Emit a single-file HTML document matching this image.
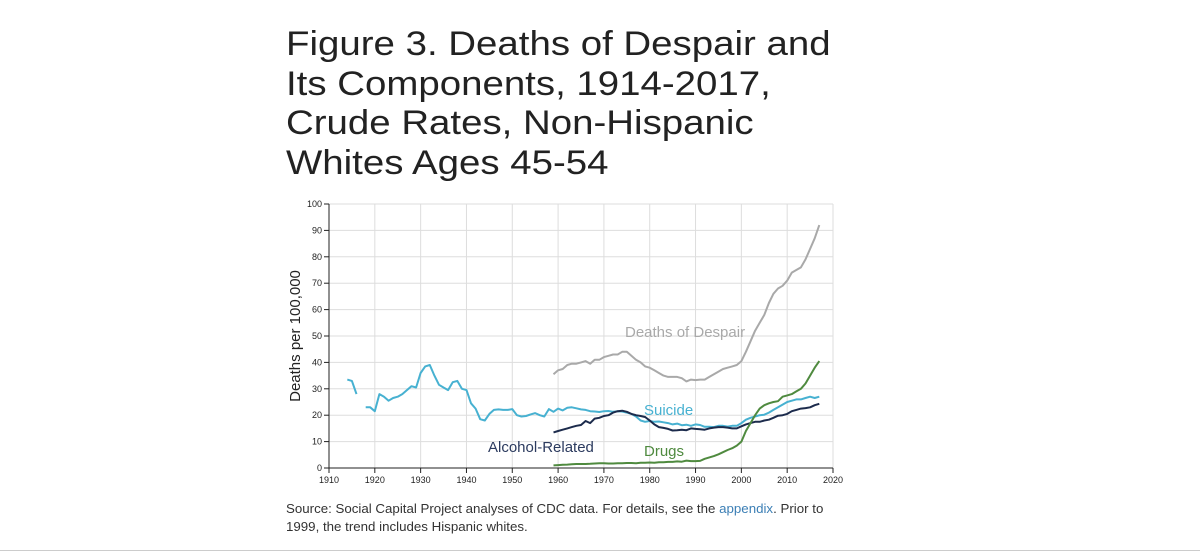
<!DOCTYPE html>
<html><head><meta charset="utf-8"><style>
body{margin:0;width:1200px;height:554px;background:#fff;overflow:hidden;font-family:"Liberation Sans",sans-serif;position:relative}
#title{position:absolute;left:286px;top:25px;font-size:34px;line-height:39.5px;color:#222;margin:0;font-weight:normal;transform:scaleX(1.13);transform-origin:0 0;white-space:nowrap}
#src{position:absolute;left:286px;top:500px;font-size:13.3px;line-height:18px;color:#333;width:560px}
#src a{color:#3c7fb5;text-decoration:none}
#rule{position:absolute;left:0;top:550px;width:1200px;height:1px;background:#ccc}
svg{position:absolute;left:0;top:0}
</style></head><body>
<h1 id="title">Figure 3. Deaths of Despair and<br>Its Components, 1914-2017,<br>Crude Rates, Non-Hispanic<br>Whites Ages 45-54</h1>
<svg id="chart" width="1200" height="554"></svg>
<div id="src">Source: Social Capital Project analyses of CDC data. For details, see the <a>appendix</a>. Prior to 1999, the trend includes Hispanic whites.</div>
<div id="rule"></div>
<script>
const xTicks=[1910,1920,1930,1940,1950,1960,1970,1980,1990,2000,2010,2020];
const yTicks=[0,10,20,30,40,50,60,70,80,90,100];
const suicideEarlyYears=[1914,1915,1916];
const suicideEarly=[33.5,33,28];
const suicideStart=1918;
const suicide=[23,23,21.5,28,27,25.5,26.5,27,28,29.5,31,30.5,36,38.5,39,35,31.5,30.5,29.5,32.5,33,30,29.5,24.5,22.5,18.5,18,20.5,22,22.2,22,22,22.3,20,19.5,19.7,20.3,20.8,20,19.5,22.3,21.3,22.5,21.8,22.8,23,22.6,22.2,22,21.5,21.4,21.2,21.5,21.6,21.3,21.5,21.4,21,20.5,19.5,18,17.5,17.8,17.5,17.6,17.3,17,16.5,16.8,16.2,16.4,16,16.5,16.3,15.6,15.6,15.5,16,16,15.7,16,16,17,18.3,19,19.5,20,20.2,21,22,23,24,25,25.5,26,26,26.5,27,26.5,27];
const modernStart=1959;
const alcohol=[13.5,14,14.5,15,15.5,16,16.3,17.8,17,18.7,19,19.7,20,21,21.5,21.7,21.3,20.5,20,19.7,19.3,18,16.5,15.5,15.2,14.8,14.2,14.3,14.5,14.3,15,14.8,14.7,14.5,15,15.3,15.5,15.5,15.3,15,15,15.8,16.5,17,17.5,17.5,18,18.3,19,19.8,20,20.5,21.5,22,22.5,22.7,23,23.8,24.3];
const drugs=[1,1.1,1.2,1.3,1.4,1.5,1.5,1.5,1.6,1.7,1.8,1.8,1.7,1.7,1.8,1.8,1.9,1.9,1.8,2,2,2.1,2,2.2,2.2,2.3,2.3,2.5,2.4,2.8,2.6,2.6,2.7,3.5,4,4.5,5.2,6,6.8,7.5,8.5,10,14,17,20,22.5,23.8,24.5,25,25.3,27,27.5,28,29,30,32,35,38,40.5];
const despair=[35.5,37,37.5,39,39.5,39.5,40,40.5,39.5,41,41,42,42.5,43,43,44,44,42.5,41,40,38.5,38,37,36,35,34.5,34.5,34.5,34,32.8,33.5,33.3,33.5,33.5,34.5,35.5,36.5,37.5,38,38.5,39,40.5,44,48,52,55,58,62.5,66,68,69,71,74,75,76,79,83,87,92];

const svg=document.getElementById('chart');
const NS='http://www.w3.org/2000/svg';
const X0=329,X1=833,Y0=468,Y1=204;
const x=v=>X0+(v-1910)/110*(X1-X0);
const y=v=>Y0-v/100*(Y0-Y1);
function mk(t,a,p){const e=document.createElementNS(NS,t);for(const k in a)e.setAttribute(k,a[k]);(p||svg).appendChild(e);return e;}
xTicks.forEach(t=>{if(t>1910){const l=mk('line',{x1:x(t),x2:x(t),y1:Y1,y2:Y0,stroke:'#ddd','stroke-width':1});

}});
yTicks.forEach(t=>{if(t>0){const l=mk('line',{x1:X0,x2:X1,y1:y(t),y2:y(t),stroke:'#ddd','stroke-width':1});

}});
const ax=mk('path',{d:`M${X0},${Y1}V${Y0}H${X1}`,stroke:'#222',fill:'none','stroke-width':1});


xTicks.forEach(t=>{mk('line',{x1:x(t),x2:x(t),y1:Y0,y2:Y0+5,stroke:'#222'});
const tx=mk('text',{x:x(t),y:Y0+15,'font-size':9,'text-anchor':'middle',fill:'#222'});tx.textContent=t;

});
yTicks.forEach(t=>{mk('line',{x1:X0-5,x2:X0,y1:y(t),y2:y(t),stroke:'#222'});
const tx=mk('text',{x:X0-7,y:y(t)+3,'font-size':9,'text-anchor':'end',fill:'#222'});tx.textContent=t;

});
const yt=mk('text',{x:0,y:0,'font-size':15,'text-anchor':'middle',fill:'#222',transform:`translate(300,${(Y0+Y1)/2}) rotate(-90)`});
yt.textContent='Deaths per 100,000';


function line(vals,start,color,name){
 const d=vals.map((v,i)=>(i?'L':'M')+x(start+i).toFixed(1)+','+y(v).toFixed(1)).join('');
 const p=mk('path',{d,stroke:color,fill:'none','stroke-width':2,'stroke-linejoin':'round'});
 
 
}
line(despair,modernStart,'#a9a9a9','despair-line');
line(suicideEarly,suicideEarlyYears[0],'#47b1d1','suicide-line-early');
line(suicide,suicideStart,'#47b1d1','suicide-line');
line(alcohol,modernStart,'#1c2b4c','alcohol-line');
line(drugs,modernStart,'#4f8a3f','drugs-line');
function lab(t,px,py,c,name){const e=mk('text',{x:px,y:py,'font-size':15,fill:c});e.textContent=t;

}
lab('Deaths of Despair',625,337,'#a9a9a9','despair-label');
lab('Suicide',644,415,'#47b1d1','suicide-label');
lab('Alcohol-Related',488,452,'#2b3a5e','alcohol-label');
lab('Drugs',644,456,'#4f8a3f','drugs-label');
</script>
</body></html>
